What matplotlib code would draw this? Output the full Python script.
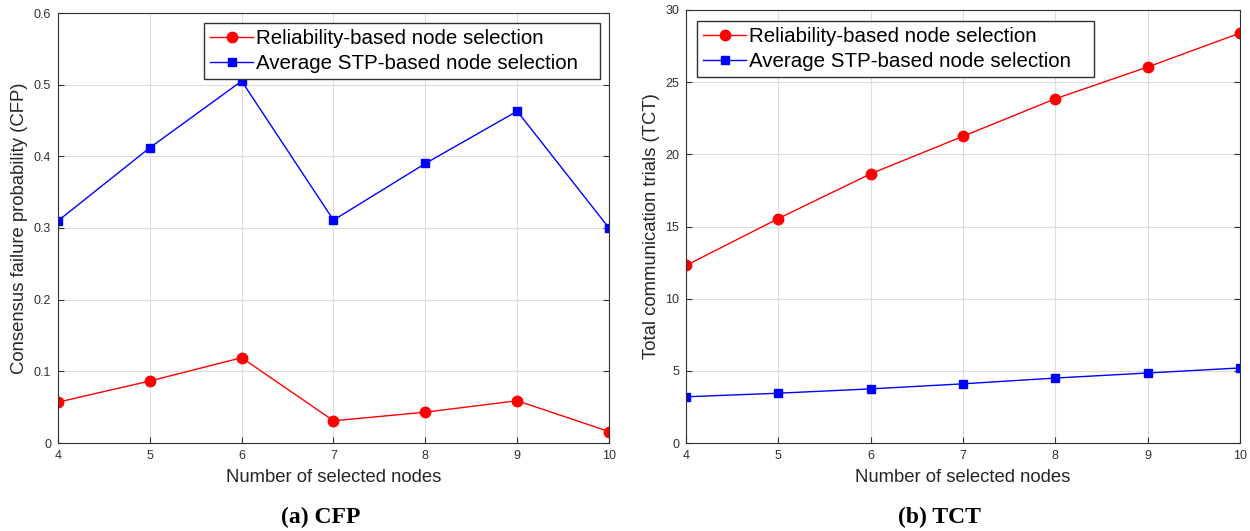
import matplotlib
matplotlib.use("Agg")
import matplotlib.pyplot as plt

nodes = [4, 5, 6, 7, 8, 9, 10]
cfp_reliability = [0.057, 0.0865, 0.119, 0.031, 0.043, 0.059, 0.016]
cfp_stp = [0.310, 0.412, 0.505, 0.311, 0.390, 0.463, 0.300]
tct_reliability = [12.3, 15.55, 18.65, 21.25, 23.85, 26.05, 28.4]
tct_stp = [3.2, 3.45, 3.75, 4.1, 4.5, 4.85, 5.2]
label_rel = "Reliability-based node selection"
label_stp = "Average STP-based node selection"

plt.rcParams['font.family'] = ['Liberation Sans', 'DejaVu Sans']

fig = plt.figure(figsize=(12.5, 5.31), dpi=100)
W, H = 1250, 531
ax1 = fig.add_axes([58 / W, 1 - 443 / H, (609 - 58) / W, (443 - 13) / H])
ax2 = fig.add_axes([686 / W, 1 - 443 / H, (1240 - 686) / W, (443 - 10) / H])

def style(ax):
    ax.grid(True, color='#dcdcdc', linewidth=0.8)
    ax.set_axisbelow(True)
    for s in ax.spines.values():
        s.set_color('#303030')
        s.set_linewidth(0.8)
    ax.tick_params(direction='in', top=False, right=True, labelsize=9,
                   colors='#303030', length=4, width=0.8, pad=5)
    ax.set_xlim(4, 10)
    ax.set_xticks(nodes)
    ax.set_xlabel("Number of selected nodes", fontsize=13.3, color='#262626', labelpad=5)

leg_kw = dict(fontsize=14.8, frameon=True, fancybox=False, edgecolor='#303030',
              framealpha=1, handlelength=2.1, handletextpad=0.15,
              borderpad=0.3, labelspacing=0.3, loc='upper left', mode='expand',
              borderaxespad=0)

ax1.plot(nodes, cfp_reliability, '-o', color='#ff0000', lw=1, ms=7.5, label=label_rel)
ax1.plot(nodes, cfp_stp, '-s', color='#0000ff', lw=1, ms=6, label=label_stp)
style(ax1)
ax1.set_ylim(0, 0.6)
ax1.set_yticks([0, 0.1, 0.2, 0.3, 0.4, 0.5, 0.6])
ax1.set_yticklabels(['0', '0.1', '0.2', '0.3', '0.4', '0.5', '0.6'])
ax1.set_ylabel("Consensus failure probability (CFP)", fontsize=13.3, color='#262626')
ax1.legend(bbox_to_anchor=(0.265, 0.5, 0.719, 0.477), **leg_kw)

ax2.plot(nodes, tct_reliability, '-o', color='#ff0000', lw=1, ms=7.5, label=label_rel)
ax2.plot(nodes, tct_stp, '-s', color='#0000ff', lw=1, ms=6, label=label_stp)
style(ax2)
ax2.set_ylim(0, 30)
ax2.set_yticks([0, 5, 10, 15, 20, 25, 30])
ax2.set_ylabel("Total communication trials (TCT)", fontsize=13.3, color='#262626')
ax2.legend(bbox_to_anchor=(0.02, 0.5, 0.716, 0.475), **leg_kw)

fig.text(321 / W, 1 - 517 / H, "(a) CFP", ha='center', va='center',
         fontsize=17, fontweight='bold', family=['Liberation Serif', 'DejaVu Serif'])
fig.text(939 / W, 1 - 517 / H, "(b) TCT", ha='center', va='center',
         fontsize=17, fontweight='bold', family=['Liberation Serif', 'DejaVu Serif'])

fig.savefig("out.png", dpi=100)
